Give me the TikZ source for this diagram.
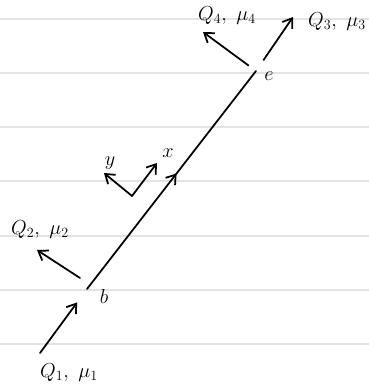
\documentclass[tikz,border=0pt]{standalone}
\usetikzlibrary{decorations.markings,arrows.meta}
\tikzset{
    pen/.style={line width=1.5pt, line cap=round, >={Straight Barb[length=2.6mm, width=3.6mm]}},
    rule/.style={gray!22, line width=1.3pt},
    midarrow/.style={postaction={decorate}, decoration={markings, mark=at position 0.53 with {\arrow{>}}}},
    lbl/.style={font=\LARGE, inner sep=1pt},
}
\begin{document}
\begin{tikzpicture}[x=0.03cm,y=-0.03cm]
    \useasboundingbox (0,0) rectangle (369,391);
    % ruled paper
    \foreach \y in {19,73,127,181,236,290,344}
        \draw[rule] (0,\y) -- (369,\y);
    % vertices
    \coordinate (b) at (87,289);
    \coordinate (e) at (256,71);
    \node[lbl] (blab) at (104,296) {$b$};
    \node[lbl] (elab) at (269,76) {$e$};
    % propagator
    \draw[pen, midarrow] (b) -- (e);
    % external legs
    \coordinate (q1) at (40,353);
    \coordinate (q2s) at (80,278);
    \coordinate (q2) at (37,250);
    \coordinate (q3) at (293,17);
    \coordinate (q4) at (203,32);
    \draw[pen, ->, shorten >=0.5cm] (q1) -- (b);
    \draw[pen, ->] (q2s) -- (q2);
    \draw[pen, ->, shorten <=0.4cm] (e) -- (q3);
    \draw[pen, ->, shorten <=0.28cm] (e) -- (q4);
    \node[lbl] (l1) at (69,373) {$Q_1,\ \mu_1$};
    \node[lbl] (l2) at (40,230) {$Q_2,\ \mu_2$};
    \node[lbl] (l3) at (337,22) {$Q_3,\ \mu_3$};
    \node[lbl] (l4) at (227,16) {$Q_4,\ \mu_4$};
    % local frame
    \coordinate (o) at (132,196);
    \coordinate (ax) at (157,163);
    \coordinate (ay) at (104,173);
    \draw[pen, ->] (o) -- (ax);
    \draw[pen, ->] (o) -- (ay);
    \node[lbl] (xlab) at (168,153) {$x$};
    \node[lbl] (ylab) at (110,163) {$y$};
\end{tikzpicture}
\end{document}
